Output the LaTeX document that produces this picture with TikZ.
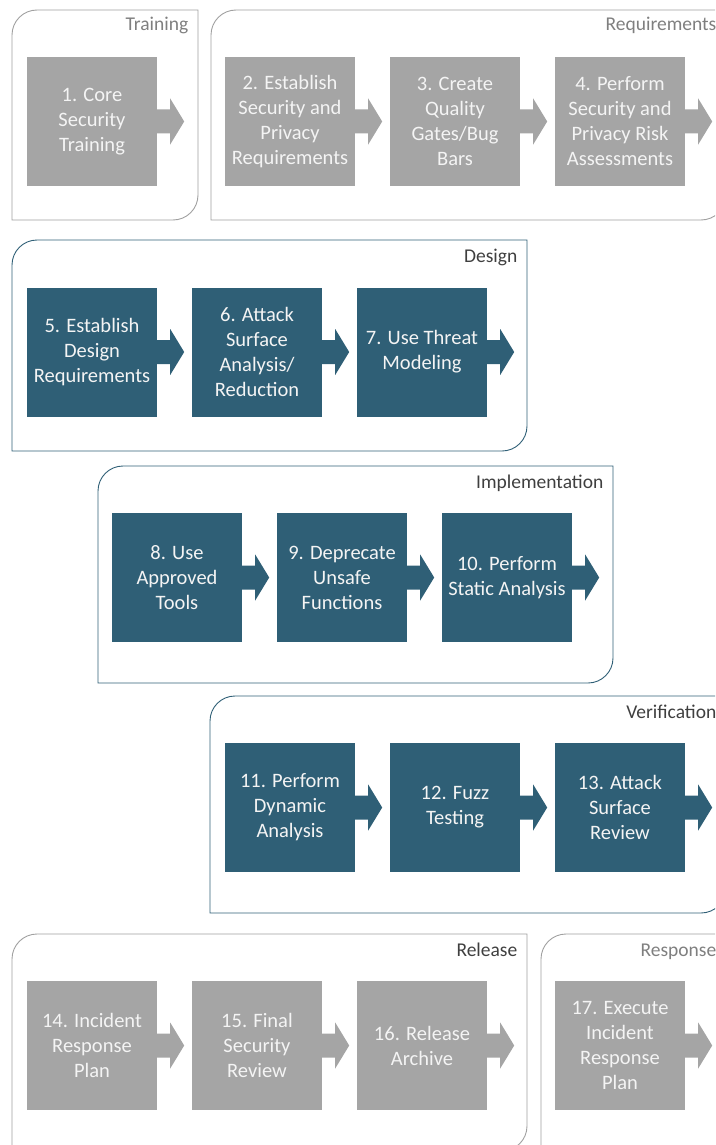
\documentclass[tikz,border=0pt]{standalone}
\usepackage{fontspec}
\setmainfont{Carlito}
\definecolor{stepgray}{HTML}{A5A5A5}
\definecolor{stepteal}{HTML}{2F5F76}
\definecolor{framegray}{HTML}{A0A0A0}
\definecolor{labelgray}{HTML}{7F7F7F}
\definecolor{labeldark}{HTML}{3F3F3F}
\definecolor{steptext}{HTML}{F4F4F4}

% phase frame: rounded top-left and bottom-right corners
\newcommand\phaseframe[5]{%
  \draw[#5] (#1,#4) -- (#1,#2+25) arc[start angle=180,end angle=90,radius=25pt]
    -- (#3,#2) -- (#3,#4-25) arc[start angle=0,end angle=-90,radius=25pt] -- cycle;}
% block arrow leaving the right side of a step
\newcommand\steparrow[2]{%
  \fill[#2] (#1.east) ++(0,-12) -- ++(13,0) -- ++(0,-11) -- ++(14,23)
    -- ++(-14,23) -- ++(0,-11) -- ++(-13,0) -- cycle;}

\begin{document}
\begin{tikzpicture}[x=1pt,y=-1pt,
  stepbox/.style={minimum width=130pt,minimum height=129pt,inner sep=0pt,
    text=steptext,align=center,font=\fontsize{20.5}{25}\selectfont},
  graystep/.style={stepbox,fill=stepgray},
  tealstep/.style={stepbox,fill=stepteal},
  grayframe/.style={draw=framegray,line width=0.9pt},
  tealframe/.style={draw=stepteal,line width=0.9pt},
  phaselabel/.style={anchor=base east,inner sep=0pt,font=\fontsize{19.5}{22}\selectfont},
]
\useasboundingbox (0,0) rectangle (715,1145);
\clip (0,0) rectangle (715,1145);

% ---- frames ----
\phaseframe{12}{10}{198}{220}{grayframe}
\phaseframe{211}{10}{726}{220}{grayframe}
\phaseframe{12}{240}{527}{451}{tealframe}
\phaseframe{98}{466}{613}{683}{tealframe}
\phaseframe{210}{696}{726}{913}{tealframe}
\phaseframe{12}{934}{527}{1151}{grayframe}
\phaseframe{541}{934}{726}{1151}{grayframe}

% ---- phase labels ----
\node[phaselabel,text=labelgray] (lTraining) at (188.5,31) {Training};
\node[phaselabel,text=labelgray] (lRequirements) at (716.5,31) {Requirements};
\node[phaselabel,text=labeldark] (lDesign) at (517.5,262) {Design};
\node[phaselabel,text=labeldark] (lImplementation) at (603.5,488) {Implementation};
\node[phaselabel,text=labeldark] (lVerification) at (716.5,718) {Verification};
\node[phaselabel,text=labeldark] (lRelease) at (517.5,956) {Release};
\node[phaselabel,text=labelgray] (lResponse) at (716.5,956) {Response};

% ---- steps ----
\node[graystep] (s1) at (92,121.5) {1. Core\\Security\\Training};
\node[graystep] (s2) at (290,121.5) {2. Establish\\Security and\\Privacy\\Requirements};
\node[graystep] (s3) at (455,121.5) {3. Create\\Quality\\Gates/Bug\\Bars};
\node[graystep] (s4) at (620,121.5) {4. Perform\\Security and\\Privacy Risk\\Assessments};

\node[tealstep] (s5) at (92,352) {5. Establish\\Design\\Requirements};
\node[tealstep] (s6) at (257,352) {6. Attack\\Surface\\Analysis/\\Reduction};
\node[tealstep] (s7) at (422,352) {7. Use Threat\\Modeling};

\node[tealstep] (s8) at (177,577.5) {8. Use\\Approved\\Tools};
\node[tealstep] (s9) at (342,577.5) {9. Deprecate\\Unsafe\\Functions};
\node[tealstep] (s10) at (507,577.5) {10. Perform\\Static Analysis};

\node[tealstep] (s11) at (290,807.5) {11. Perform\\Dynamic\\Analysis};
\node[tealstep] (s12) at (455,807.5) {12. Fuzz\\Testing};
\node[tealstep] (s13) at (620,807.5) {13. Attack\\Surface\\Review};

\node[graystep] (s14) at (92,1045.5) {14. Incident\\Response\\Plan};
\node[graystep] (s15) at (257,1045.5) {15. Final\\Security\\Review};
\node[graystep] (s16) at (422,1045.5) {16. Release\\Archive};
\node[graystep] (s17) at (620,1045.5) {17. Execute\\Incident\\Response\\Plan};

% ---- arrows ----
\foreach \s in {s1,s2,s3,s4,s14,s15,s16,s17} {\steparrow{\s}{stepgray}}
\foreach \s in {s5,s6,s7,s8,s9,s10,s11,s12,s13} {\steparrow{\s}{stepteal}}
\end{tikzpicture}
\end{document}
